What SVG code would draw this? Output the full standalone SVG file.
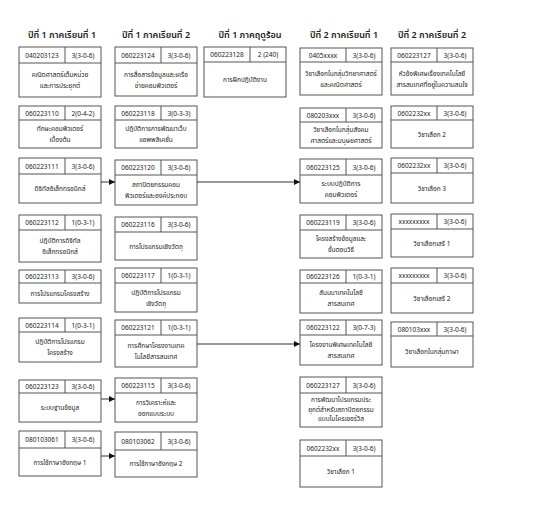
<svg xmlns="http://www.w3.org/2000/svg" width="554" height="511" viewBox="0 0 554 511">
<style>
.bg{fill:#fff}
.box rect{fill:#fff;stroke:#555;stroke-width:1}
.box line{stroke:#555;stroke-width:1}
.box text{font-family:"Noto Sans Thai","Leelawadee UI","Tahoma","DejaVu Sans",sans-serif;font-size:6.5px;fill:#222;text-anchor:middle}
.title{font-family:"Noto Sans Thai","Tahoma","DejaVu Sans",sans-serif;font-size:9px;font-weight:600;fill:#222;text-anchor:middle}
.conn path{fill:none;stroke:#333;stroke-width:1}
</style>
<defs>
<marker id="arr" markerUnits="userSpaceOnUse" markerWidth="6" markerHeight="6" refX="6" refY="3" orient="auto"><path d="M0,0 L6,3 L0,6 z" fill="#111"/></marker>
</defs>
<rect class="bg" x="0" y="0" width="554" height="511"/>
<g id="titles">
<text class="title" x="62" y="38">ปีที่ 1 ภาคเรียนที่ 1</text>
<text class="title" x="156" y="38">ปีที่ 1 ภาคเรียนที่ 2</text>
<text class="title" x="250" y="38">ปีที่ 1 ภาคฤดูร้อน</text>
<text class="title" x="344" y="38">ปีที่ 2 ภาคเรียนที่ 1</text>
<text class="title" x="432" y="38">ปีที่ 2 ภาคเรียนที่ 2</text>
</g>

<!-- Column 1 -->
<g id="n040203123" class="box" transform="translate(19,47)"><rect width="82" height="50"/><line x1="0" y1="16" x2="82" y2="16"/><line x1="46" y1="0" x2="46" y2="16"/><text x="23" y="10.5">040203123</text><text x="64" y="10.5">3(3-0-6)</text><text x="41" y="30">คณิตศาสตร์เต็มหน่วย</text><text x="41" y="41">และการประยุกต์</text></g>
<g id="n060223110" class="box" transform="translate(19,106)"><rect width="82" height="42"/><line x1="0" y1="14" x2="82" y2="14"/><line x1="46" y1="0" x2="46" y2="14"/><text x="23" y="9.5">060223110</text><text x="64" y="9.5">2(0-4-2)</text><text x="41" y="25">ทักษะคอมพิวเตอร์</text><text x="41" y="36">เบื้องต้น</text></g>
<g id="n060223111" class="box" transform="translate(19,158)"><rect width="82" height="45"/><line x1="0" y1="16" x2="82" y2="16"/><line x1="46" y1="0" x2="46" y2="16"/><text x="23" y="10.5">060223111</text><text x="64" y="10.5">3(3-0-6)</text><text x="41" y="33">ดิจิทัลอิเล็กทรอนิกส์</text></g>
<g id="n060223112" class="box" transform="translate(19,215)"><rect width="82" height="47"/><line x1="0" y1="15" x2="82" y2="15"/><line x1="46" y1="0" x2="46" y2="15"/><text x="23" y="10">060223112</text><text x="64" y="10">1(0-3-1)</text><text x="41" y="28">ปฏิบัติการดิจิทัล</text><text x="41" y="39">อิเล็กทรอนิกส์</text></g>
<g id="n060223113" class="box" transform="translate(19,270)"><rect width="82" height="33"/><line x1="0" y1="13" x2="82" y2="13"/><line x1="46" y1="0" x2="46" y2="13"/><text x="23" y="9">060223113</text><text x="64" y="9">3(3-0-6)</text><text x="41" y="25.5">การโปรแกรมโครงสร้าง</text></g>
<g id="n060223114" class="box" transform="translate(19,318)"><rect width="82" height="44"/><line x1="0" y1="14" x2="82" y2="14"/><line x1="46" y1="0" x2="46" y2="14"/><text x="23" y="9.5">060223114</text><text x="64" y="9.5">1(0-3-1)</text><text x="41" y="26">ปฏิบัติการโปรแกรม</text><text x="41" y="37">โครงสร้าง</text></g>
<g id="n060223123" class="box" transform="translate(19,380)"><rect width="82" height="42"/><line x1="0" y1="13" x2="82" y2="13"/><line x1="46" y1="0" x2="46" y2="13"/><text x="23" y="9">060223123</text><text x="64" y="9">3(3-0-6)</text><text x="41" y="30">ระบบฐานข้อมูล</text></g>
<g id="n080103061" class="box" transform="translate(19,431)"><rect width="82" height="45"/><line x1="0" y1="17" x2="82" y2="17"/><line x1="46" y1="0" x2="46" y2="17"/><text x="23" y="11">080103061</text><text x="64" y="11">3(3-0-6)</text><text x="41" y="33.5">การใช้ภาษาอังกฤษ 1</text></g>

<!-- Column 2 -->
<g id="n060223124" class="box" transform="translate(115,47)"><rect width="82" height="49"/><line x1="0" y1="16" x2="82" y2="16"/><line x1="46" y1="0" x2="46" y2="16"/><text x="23" y="10.5">060223124</text><text x="64" y="10.5">3(3-0-6)</text><text x="41" y="29.5">การสื่อสารข้อมูลและเครือ</text><text x="41" y="40.5">ข่ายคอมพิวเตอร์</text></g>
<g id="n060223118" class="box" transform="translate(115,106)"><rect width="82" height="42"/><line x1="0" y1="14" x2="82" y2="14"/><line x1="46" y1="0" x2="46" y2="14"/><text x="23" y="9.5">060223118</text><text x="64" y="9.5">3(0-3-3)</text><text x="41" y="25">ปฏิบัติการการพัฒนาเว็บ</text><text x="41" y="36">แอพพลิเคชั่น</text></g>
<g id="n060223120" class="box" transform="translate(115,160)"><rect width="82" height="45"/><line x1="0" y1="15" x2="82" y2="15"/><line x1="46" y1="0" x2="46" y2="15"/><text x="23" y="10">060223120</text><text x="64" y="10">3(3-0-6)</text><text x="41" y="27">สถาปัตยกรรมคอม</text><text x="41" y="38">พิวเตอร์และองค์ประกอบ</text></g>
<g id="n060223116" class="box" transform="translate(115,217)"><rect width="82" height="43"/><line x1="0" y1="15" x2="82" y2="15"/><line x1="46" y1="0" x2="46" y2="15"/><text x="23" y="10">060223116</text><text x="64" y="10">3(3-0-6)</text><text x="41" y="31.5">การโปรแกรมเชิงวัตถุ</text></g>
<g id="n060223117" class="box" transform="translate(115,268)"><rect width="82" height="44"/><line x1="0" y1="15" x2="82" y2="15"/><line x1="46" y1="0" x2="46" y2="15"/><text x="23" y="10">060223117</text><text x="64" y="10">1(0-3-1)</text><text x="41" y="26.5">ปฏิบัติการโปรแกรม</text><text x="41" y="37.5">เชิงวัตถุ</text></g>
<g id="n060223121" class="box" transform="translate(115,320)"><rect width="82" height="47"/><line x1="0" y1="15" x2="82" y2="15"/><line x1="46" y1="0" x2="46" y2="15"/><text x="23" y="10">060223121</text><text x="64" y="10">1(0-3-1)</text><text x="41" y="28">การศึกษาโครงงานเทค</text><text x="41" y="39">โนโลยีสารสนเทศ</text></g>
<g id="n060223115" class="box" transform="translate(115,378)"><rect width="82" height="44"/><line x1="0" y1="15" x2="82" y2="15"/><line x1="46" y1="0" x2="46" y2="15"/><text x="23" y="10">060223115</text><text x="64" y="10">3(3-0-6)</text><text x="41" y="26.5">การวิเคราะห์และ</text><text x="41" y="37.5">ออกแบบระบบ</text></g>
<g id="n080103062" class="box" transform="translate(115,432)"><rect width="82" height="45"/><line x1="0" y1="18" x2="82" y2="18"/><line x1="46" y1="0" x2="46" y2="18"/><text x="23" y="11.5">080103062</text><text x="64" y="11.5">3(3-0-6)</text><text x="41" y="34">การใช้ภาษาอังกฤษ 2</text></g>

<!-- Column 3 -->
<g id="n060223128" class="box" transform="translate(204,47)"><rect width="82" height="50"/><line x1="0" y1="15" x2="82" y2="15"/><line x1="46" y1="0" x2="46" y2="15"/><text x="23" y="10">060223128</text><text x="64" y="10">2 (240)</text><text x="41" y="35">การฝึกปฏิบัติงาน</text></g>

<!-- Column 4 -->
<g id="n0405xxxx" class="box" transform="translate(300,48)"><rect width="82" height="47"/><line x1="0" y1="14" x2="82" y2="14"/><line x1="46" y1="0" x2="46" y2="14"/><text x="23" y="9.5">0405xxxx</text><text x="64" y="9.5">3(3-0-6)</text><text x="41" y="27.5">วิชาเลือกในกลุ่มวิทยาศาสตร์</text><text x="41" y="38.5">และคณิตศาสตร์</text></g>
<g id="n080203xxx" class="box" transform="translate(300,108)"><rect width="82" height="40"/><line x1="0" y1="14" x2="82" y2="14"/><line x1="46" y1="0" x2="46" y2="14"/><text x="23" y="9.5">080203xxx</text><text x="64" y="9.5">3(3-0-6)</text><text x="41" y="24">วิชาเลือกในกลุ่มสังคม</text><text x="41" y="35">ศาสตร์และมนุษยศาสตร์</text></g>
<g id="n060223125" class="box" transform="translate(300,159)"><rect width="82" height="44"/><line x1="0" y1="16" x2="82" y2="16"/><line x1="46" y1="0" x2="46" y2="16"/><text x="23" y="10.5">060223125</text><text x="64" y="10.5">3(3-0-6)</text><text x="41" y="27">ระบบปฏิบัติการ</text><text x="41" y="38">คอมพิวเตอร์</text></g>
<g id="n060223119" class="box" transform="translate(300,215)"><rect width="82" height="43"/><line x1="0" y1="15" x2="82" y2="15"/><line x1="46" y1="0" x2="46" y2="15"/><text x="23" y="10">060223119</text><text x="64" y="10">3(3-0-6)</text><text x="41" y="26">โครงสร้างข้อมูลและ</text><text x="41" y="37">ขั้นตอนวิธี</text></g>
<g id="n060223126" class="box" transform="translate(300,270)"><rect width="82" height="43"/><line x1="0" y1="13" x2="82" y2="13"/><line x1="46" y1="0" x2="46" y2="13"/><text x="23" y="9">060223126</text><text x="64" y="9">1(0-3-1)</text><text x="41" y="25">สัมมนาเทคโนโลยี</text><text x="41" y="36">สารสนเทศ</text></g>
<g id="n060223122" class="box" transform="translate(300,320)"><rect width="82" height="45"/><line x1="0" y1="15" x2="82" y2="15"/><line x1="46" y1="0" x2="46" y2="15"/><text x="23" y="10">060223122</text><text x="64" y="10">3(0-7-3)</text><text x="41" y="27">โครงงานพิเศษเทคโนโลยี</text><text x="41" y="38">สารสนเทศ</text></g>
<g id="n060223127a" class="box" transform="translate(300,377)"><rect width="82" height="50"/><line x1="0" y1="16" x2="82" y2="16"/><line x1="46" y1="0" x2="46" y2="16"/><text x="23" y="10.5">060223127</text><text x="64" y="10.5">3(3-0-6)</text><text x="41" y="25">การพัฒนาโปรแกรมประ</text><text x="41" y="34.5">ยุกต์สำหรับสถาปัตยกรรม</text><text x="41" y="44">แบบไมโครเซอร์วิส</text></g>
<g id="n0602232xx_1" class="box" transform="translate(300,440)"><rect width="82" height="47"/><line x1="0" y1="16" x2="82" y2="16"/><line x1="46" y1="0" x2="46" y2="16"/><text x="23" y="10.5">0602232xx</text><text x="64" y="10.5">3(3-0-6)</text><text x="41" y="34">วิชาเลือก 1</text></g>

<!-- Column 5 -->
<g id="n060223127b" class="box" transform="translate(391,48)"><rect width="82" height="47"/><line x1="0" y1="14" x2="82" y2="14"/><line x1="46" y1="0" x2="46" y2="14"/><text x="23" y="9.5">060223127</text><text x="64" y="9.5">3(3-0-6)</text><text x="41" y="27.5">หัวข้อพิเศษเรื่องเทคโนโลยี</text><text x="41" y="38.5">สารสนเทศที่อยู่ในความสนใจ</text></g>
<g id="n0602232xx_2" class="box" transform="translate(391,106)"><rect width="82" height="42"/><line x1="0" y1="14" x2="82" y2="14"/><line x1="46" y1="0" x2="46" y2="14"/><text x="23" y="9.5">0602232xx</text><text x="64" y="9.5">3(3-0-6)</text><text x="41" y="30.5">วิชาเลือก 2</text></g>
<g id="n0602232xx_3" class="box" transform="translate(391,158)"><rect width="82" height="45"/><line x1="0" y1="15" x2="82" y2="15"/><line x1="46" y1="0" x2="46" y2="15"/><text x="23" y="10">0602232xx</text><text x="64" y="10">3(3-0-6)</text><text x="41" y="32.5">วิชาเลือก 3</text></g>
<g id="nfree1" class="box" transform="translate(391,214)"><rect width="82" height="43"/><line x1="0" y1="15" x2="82" y2="15"/><line x1="46" y1="0" x2="46" y2="15"/><text x="23" y="10">xxxxxxxxx</text><text x="64" y="10">3(3-0-6)</text><text x="41" y="31.5">วิชาเลือกเสรี 1</text></g>
<g id="nfree2" class="box" transform="translate(391,268)"><rect width="82" height="45"/><line x1="0" y1="15" x2="82" y2="15"/><line x1="46" y1="0" x2="46" y2="15"/><text x="23" y="10">xxxxxxxxx</text><text x="64" y="10">3(3-0-6)</text><text x="41" y="32.5">วิชาเลือกเสรี 2</text></g>
<g id="n080103xxx" class="box" transform="translate(391,322)"><rect width="82" height="45"/><line x1="0" y1="14" x2="82" y2="14"/><line x1="46" y1="0" x2="46" y2="14"/><text x="23" y="9.5">080103xxx</text><text x="64" y="9.5">3(3-0-6)</text><text x="41" y="32">วิชาเลือกในกลุ่มภาษา</text></g>

<g id="connectors" class="conn">
<path d="M101,182 L115,182" marker-end="url(#arr)"/>
<path d="M197,182 L300,182" marker-end="url(#arr)"/>
<path d="M197,344 L300,344" marker-end="url(#arr)"/>
<path d="M101,399 L115,399" marker-end="url(#arr)"/>
<path d="M101,456 L115,456" marker-end="url(#arr)"/>
</g>
</svg>
